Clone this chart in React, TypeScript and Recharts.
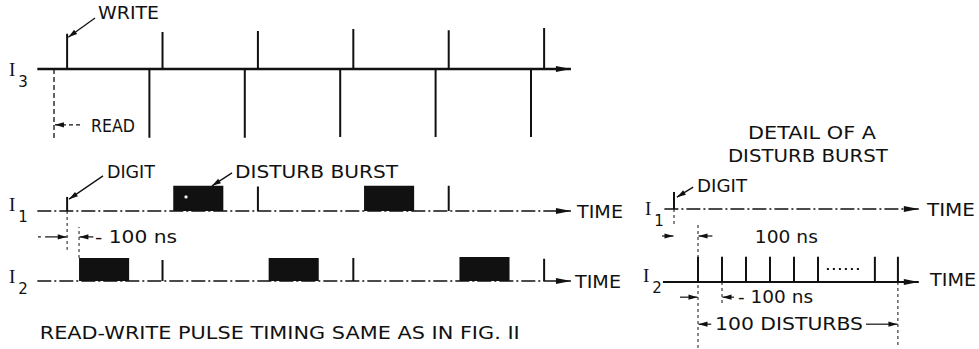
import React from "react";
import { ComposedChart, Line, XAxis, YAxis, ReferenceArea, ReferenceDot } from "recharts";

// ---------- left panel: time in ns, 0 = first READ pulse ----------
const readTimes = [0, 800, 1600, 2400, 3200, 4000];
const readAmps = [-1.92, -1.86, -1.86, -1.84, -1.84, -1.84];
const writeTimes = [110, 910, 1710, 2510, 3310, 4110];
const writeAmps = [0.95, 1.0, 1.03, 1.08, 1.05, 1.11];

const digitTime = 110;
const digitAmp = 0.38;
const i1BurstStarts = [1000, 2600];
const i1BurstAmps = [0.68, 0.68];
const i1PulseTimes = [1710, 3310];
const i1PulseAmps = [0.66, 0.68];
const i2BurstStarts = [210, 1800, 3400];
const i2BurstAmps = [0.62, 0.62, 0.65];
const i2PulseTimes = [910, 2510, 4110];
const i2PulseAmps = [0.57, 0.62, 0.6];
const burstLength = 420;
const leftStart = -140;
const leftEnd = 4335;

// ---------- right panel (detail): ns, 0 = DIGIT pulse ----------
const detailDigitAmp = 0.46;
const disturbTimes = [100, 200, 300, 400, 500, 600, 837, 933];
const disturbAmps = [0.68, 0.68, 0.68, 0.68, 0.68, 0.68, 0.68, 0.68];
const rightStart = -40;
const rightEnd = 1020;

// ---------- layout ----------
const W = 979;
const H = 349;
const L0 = 54; // px of t=0, left panel
const LK = 0.11925; // px per ns, left
const R0 = 674;
const RK = 0.24;
const S = 37; // px per amplitude unit
const rowBase: Record<string, number> = { I3: 69, L1: 211, L2: 281, R1: 209, R2: 282 };
const INK = "#111";
const SANS = "DejaVu Sans, sans-serif";
const SERIF = "Liberation Serif, DejaVu Serif, serif";

const spikes = (times: number[], amps: number[]) =>
  times.flatMap((t, i) => [
    { t, a: 0 },
    { t, a: amps[i] },
    { t, a: null },
  ]);

const arrowHead = (len: number, half: number) => (p: any) => {
  const pts = p.points ?? [];
  const last = pts.length - 1;
  if (p.index !== last || last < 1) return <g key={`n${p.index}`} />;
  const a = pts[last - 1];
  const b = pts[last];
  const ang = Math.atan2(b.y - a.y, b.x - a.x);
  const c = Math.cos(ang);
  const s = Math.sin(ang);
  const bx = b.x - c * len;
  const by = b.y - s * len;
  return (
    <polygon
      key={`h${p.index}`}
      points={`${b.x},${b.y} ${bx - s * half},${by + c * half} ${bx + s * half},${by - c * half}`}
      fill={INK}
    />
  );
};

type Seg = { x: string; y: string; from: [number, number]; to: [number, number]; dash?: string; w?: number; head?: boolean };

const segs: Seg[] = [
  // leaders
  { x: "L", y: "I3", from: [344, 1.38], to: [120, 0.86], head: true, w: 1.3 },
  { x: "L", y: "I3", from: [218, -1.51], to: [8, -1.51], head: true, dash: "4 3", w: 1.1 },
  { x: "L", y: "L1", from: [411, 0.95], to: [126, 0.32], head: true, w: 1.3 },
  { x: "L", y: "L1", from: [1493, 1.03], to: [1325, 0.68], head: true, w: 1.3 },
  // left 100 ns dimension
  { x: "L", y: "L1", from: [110, 0], to: [110, -1.05], dash: "3 3", w: 1 },
  { x: "L", y: "L2", from: [210, 0.62], to: [210, 1.46], dash: "3 3", w: 1 },
  { x: "L", y: "L1", from: [-134, -0.7], to: [-110, -0.7], w: 1.2 },
  { x: "L", y: "L1", from: [-75, -0.7], to: [107, -0.7], head: true, w: 1.2 },
  { x: "L", y: "L1", from: [330, -0.7], to: [213, -0.7], head: true, w: 1.2 },
  // right detail
  { x: "R", y: "R1", from: [80, 0.59], to: [12, 0.32], head: true, w: 1.3 },
  { x: "R", y: "R1", from: [0, 0], to: [0, -0.45], dash: "3 3", w: 1 },
  { x: "R", y: "R2", from: [100, 1.54], to: [100, -1.78], dash: "3 3", w: 1 },
  { x: "R", y: "R2", from: [200, 0], to: [200, -0.62], dash: "3 3", w: 1 },
  { x: "R", y: "R2", from: [933, 0], to: [933, -1.78], dash: "3 3", w: 1 },
  { x: "R", y: "R1", from: [-50, -0.73], to: [-2, -0.73], head: true, w: 1.2 },
  { x: "R", y: "R1", from: [160, -0.73], to: [102, -0.73], head: true, w: 1.2 },
  { x: "R", y: "R2", from: [25, -0.41], to: [98, -0.41], head: true, w: 1.2 },
  { x: "R", y: "R2", from: [250, -0.41], to: [202, -0.41], head: true, w: 1.2 },
  { x: "R", y: "R2", from: [155, -1.14], to: [102, -1.14], head: true, w: 1.2 },
  { x: "R", y: "R2", from: [800, -1.14], to: [931, -1.14], head: true, w: 1.2 },
  { x: "R", y: "R2", from: [637, 0.35], to: [787, 0.35], dash: "2 4", w: 2 },
];

type Txt = { x: string; y: string; t: number; a: number; text: string; len?: number; anchor?: "start" | "middle" };

const texts: Txt[] = [
  { x: "L", y: "I3", t: 369, a: 1.34, text: "WRITE", len: 61 },
  { x: "L", y: "I3", t: 310, a: -1.69, text: "READ", len: 44 },
  { x: "L", y: "L1", t: 444, a: 0.88, text: "DIGIT", len: 48 },
  { x: "L", y: "L1", t: 1518, a: 0.88, text: "DISTURB BURST", len: 163 },
  { x: "L", y: "L1", t: 344, a: -0.86, text: "- 100 ns", len: 82 },
  { x: "L", y: "L1", t: 4386, a: -0.18, text: "TIME", len: 46 },
  { x: "L", y: "L2", t: 4369, a: -0.18, text: "TIME", len: 46 },
  { x: "L", y: "L2", t: -120, a: -1.58, text: "READ-WRITE PULSE TIMING SAME AS IN FIG. II", len: 480 },
  { x: "R", y: "R1", t: 575, a: 1.88, text: "DETAIL OF A", len: 128, anchor: "middle" },
  { x: "R", y: "R1", t: 558, a: 1.28, text: "DISTURB BURST", len: 160, anchor: "middle" },
  { x: "R", y: "R1", t: 96, a: 0.47, text: "DIGIT", len: 50 },
  { x: "R", y: "R1", t: 337, a: -0.91, text: "100 ns", len: 63 },
  { x: "R", y: "R1", t: 1054, a: -0.2, text: "TIME", len: 48 },
  { x: "R", y: "R2", t: 1067, a: -0.12, text: "TIME", len: 46 },
  { x: "R", y: "R2", t: 267, a: -0.58, text: "- 100 ns", len: 75 },
  { x: "R", y: "R2", t: 171, a: -1.31, text: "100 DISTURBS", len: 148 },
];

const signalNames = [
  { x: "L", y: "I3", t: -377, a: -0.19, sub: "3" },
  { x: "L", y: "L1", t: -377, a: 0, sub: "1" },
  { x: "L", y: "L2", t: -377, a: -0.05, sub: "2" },
  { x: "R", y: "R1", t: -121, a: -0.16, sub: "1" },
  { x: "R", y: "R2", t: -129, a: 0, sub: "2" },
];

const yDom = (base: number): [number, number] => [-(H - base) / S, base / S];

export default function App() {
  const baseline = (x: string, y: string, from: number, to: number, dash?: string, w = 1.5) => (
    <Line
      xAxisId={x}
      yAxisId={y}
      data={[{ t: from, a: 0 }, { t: to, a: 0 }]}
      dataKey="a"
      stroke={INK}
      strokeWidth={w}
      strokeDasharray={dash}
      dot={arrowHead(15, 3)}
      activeDot={false}
      isAnimationActive={false}
    />
  );
  const pulses = (x: string, y: string, data: any[], w = 2, dash?: string) => (
    <Line
      xAxisId={x}
      yAxisId={y}
      data={data}
      dataKey="a"
      stroke={INK}
      strokeWidth={w}
      strokeDasharray={dash}
      dot={false}
      activeDot={false}
      isAnimationActive={false}
    />
  );
  const bursts = (y: string, starts: number[], amps: number[]) =>
    starts.map((s, i) => (
      <ReferenceArea
        key={`${y}${i}`}
        xAxisId="L"
        yAxisId={y}
        x1={s}
        x2={s + burstLength}
        y1={0}
        y2={amps[i]}
        fill={INK}
        fillOpacity={1}
        stroke="none"
        ifOverflow="visible"
      />
    ));

  return (
    <div style={{ position: "absolute", left: 0, top: 0, width: W, height: H, background: "#fff" }}>
      <ComposedChart width={W} height={H} margin={{ top: 0, right: 0, bottom: 0, left: 0 }}>
        <XAxis xAxisId="L" type="number" dataKey="t" domain={[-L0 / LK, (W - L0) / LK]} hide allowDataOverflow />
        <XAxis xAxisId="R" type="number" dataKey="t" domain={[-R0 / RK, (W - R0) / RK]} hide allowDataOverflow />
        {Object.entries(rowBase).map(([id, b]) => (
          <YAxis key={id} yAxisId={id} type="number" domain={yDom(b)} hide allowDataOverflow />
        ))}

        {/* I3 */}
        {baseline("L", "I3", leftStart, leftEnd, undefined, 2.5)}
        {pulses("L", "I3", spikes(writeTimes, writeAmps))}
        {pulses("L", "I3", spikes(readTimes.slice(0, 1), readAmps.slice(0, 1)), 1.3, "5 3")}
        {pulses("L", "I3", spikes(readTimes.slice(1), readAmps.slice(1)))}

        {/* I1 */}
        {baseline("L", "L1", leftStart, leftEnd, "14 3 2 3")}
        {pulses("L", "L1", spikes([digitTime], [digitAmp]))}
        {pulses("L", "L1", spikes(i1PulseTimes, i1PulseAmps))}
        {bursts("L1", i1BurstStarts, i1BurstAmps)}
        <ReferenceDot xAxisId="L" yAxisId="L1" x={1107} y={0.38} r={1.6} fill="#fff" stroke="#777" strokeWidth={0.6} ifOverflow="visible" />

        {/* I2 */}
        {baseline("L", "L2", leftStart, leftEnd, "14 3 2 3")}
        {pulses("L", "L2", spikes(i2PulseTimes, i2PulseAmps))}
        {bursts("L2", i2BurstStarts, i2BurstAmps)}

        {/* detail */}
        {baseline("R", "R1", rightStart, rightEnd, "14 3 2 3")}
        {pulses("R", "R1", spikes([0], [detailDigitAmp]))}
        {baseline("R", "R2", rightStart - 6, rightEnd, undefined, 1.8)}
        {pulses("R", "R2", spikes(disturbTimes, disturbAmps))}

        {segs.map((s, i) => (
          <Line
            key={`s${i}`}
            xAxisId={s.x}
            yAxisId={s.y}
            data={[{ t: s.from[0], a: s.from[1] }, { t: s.to[0], a: s.to[1] }]}
            dataKey="a"
            stroke={INK}
            strokeWidth={s.w ?? 1.2}
            strokeDasharray={s.dash}
            dot={s.head ? arrowHead(9, 2.6) : false}
            activeDot={false}
            isAnimationActive={false}
          />
        ))}

        {texts.map((tx, i) => (
          <ReferenceDot
            key={`t${i}`}
            xAxisId={tx.x}
            yAxisId={tx.y}
            x={tx.t}
            y={tx.a}
            ifOverflow="visible"
            shape={(p: any) => (
              <text
                x={p.cx}
                y={p.cy}
                fontFamily={SANS}
                fontSize={18}
                fill={INK}
                textAnchor={tx.anchor ?? "start"}
                textLength={tx.len}
                lengthAdjust="spacingAndGlyphs"
              >
                {tx.text}
              </text>
            )}
          />
        ))}

        {signalNames.map((n, i) => (
          <ReferenceDot
            key={`n${i}`}
            xAxisId={n.x}
            yAxisId={n.y}
            x={n.t}
            y={n.a}
            ifOverflow="visible"
            shape={(p: any) => (
              <text x={p.cx} y={p.cy} fontFamily={SERIF} fontSize={19} fill={INK}>
                I
                <tspan dx={3} dy={11} fontFamily={SANS} fontSize={15}>
                  {n.sub}
                </tspan>
              </text>
            )}
          />
        ))}
      </ComposedChart>
    </div>
  );
}
